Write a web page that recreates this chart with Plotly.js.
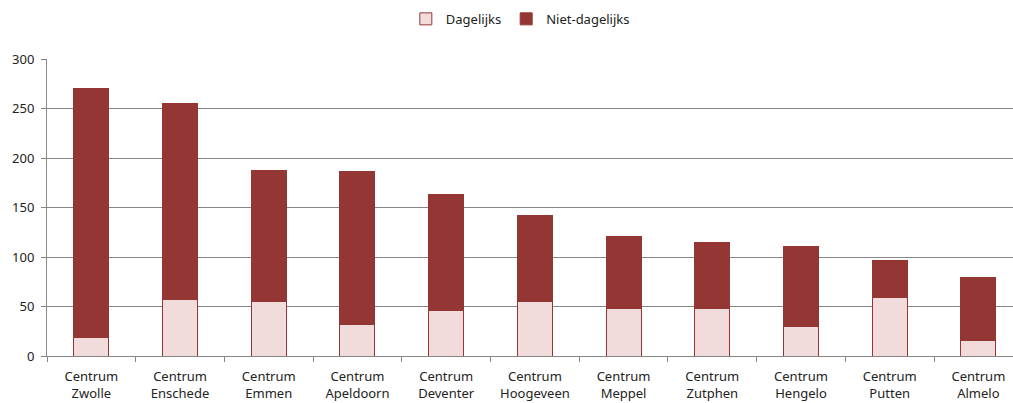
<!DOCTYPE html>
<html>
<head>
<meta charset="utf-8">
<script src="https://cdn.plot.ly/plotly-3.0.1.min.js"></script>
<style>html,body{margin:0;padding:0;background:#fff;}#chart{width:1013px;height:403px;}</style>
</head>
<body>
<div id="chart"></div>
<script>
// Shopping centres and number of shops per type
const centres = ["Centrum<br>Zwolle", "Centrum<br>Enschede", "Centrum<br>Emmen", "Centrum<br>Apeldoorn",
  "Centrum<br>Deventer", "Centrum<br>Hoogeveen", "Centrum<br>Meppel", "Centrum<br>Zutphen",
  "Centrum<br>Hengelo", "Centrum<br>Putten", "Centrum<br>Almelo"];
const dagelijks = [19, 57, 55, 32, 46, 55, 48, 48, 30, 59, 16];
const nietDagelijks = [251, 198, 132, 154, 117, 87, 73, 67, 81, 37, 63];
const yTicks = [0, 50, 100, 150, 200, 250, 300];

const darkRed = "#943634";
const lightPink = "#F2DCDB";

const traces = [
  {
    type: "bar", name: "Dagelijks", x: centres, y: dagelijks,
    marker: {color: lightPink, line: {color: darkRed, width: 1}}
  },
  {
    type: "bar", name: "Niet-dagelijks", x: centres, y: nietDagelijks,
    marker: {color: darkRed, line: {color: darkRed, width: 1}}
  }
];

const layout = {
  width: 1013, height: 403,
  margin: {l: 47, r: 0, t: 59, b: 47, autoexpand: false},
  barmode: "stack",
  bargap: 0.605,
  paper_bgcolor: "#fff", plot_bgcolor: "#fff",
  font: {family: "Noto Sans, DejaVu Sans, sans-serif", size: 13, color: "#222"},
  showlegend: true,
  legend: {
    orientation: "h", x: 0.49, xanchor: "center", y: 1.135, yanchor: "middle",
    font: {size: 13, color: "#222"}, itemwidth: 30, traceorder: "normal"
  },
  xaxis: {
    type: "category",
    // the last category runs slightly past the right edge of the plot
    range: [-0.5, 10.39],
    showline: true, linecolor: "#868686", linewidth: 1,
    ticks: "outside", tickson: "boundaries", ticklen: 5, tickcolor: "#868686",
    ticklabelstandoff: 8,
    showgrid: false, tickfont: {size: 13},
    fixedrange: true
  },
  yaxis: {
    range: [0, 300], tickvals: yTicks, ticktext: yTicks.map(String),
    showline: true, linecolor: "#868686", linewidth: 1,
    ticks: "outside", ticklen: 5, tickcolor: "#868686",
    ticklabelstandoff: 4,
    showgrid: true, gridcolor: "#868686", gridwidth: 1,
    zeroline: false, tickfont: {size: 13},
    fixedrange: true
  }
};

Plotly.newPlot("chart", traces, layout, {displayModeBar: false, staticPlot: true});
</script>
</body>
</html>
